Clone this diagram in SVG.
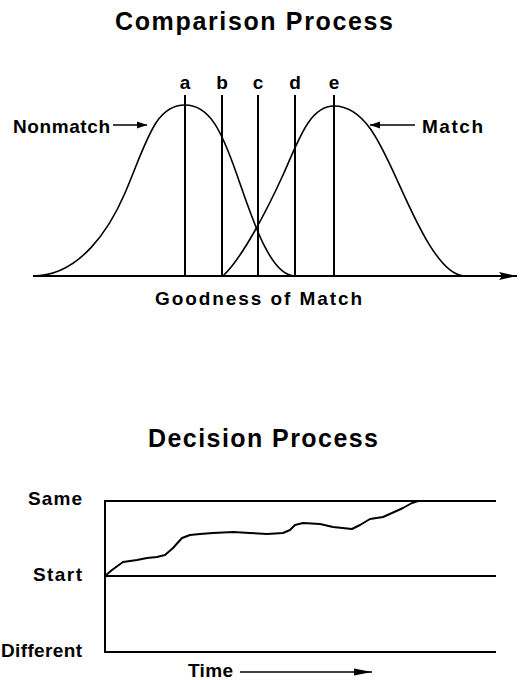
<svg xmlns="http://www.w3.org/2000/svg" width="520" height="680" viewBox="0 0 520 680">
<style>
text{font-family:"Liberation Sans",Arial,sans-serif;font-weight:bold;fill:#000}
.title{font-size:25px}
.lbl{font-size:19px}
.ax{stroke:#000;stroke-width:2;fill:none}
.cv{stroke:#000;stroke-width:1.6;fill:none}
.vl{stroke:#000;stroke-width:2;fill:none}
</style>
<defs>
<marker id="ah" viewBox="0 0 10 10" refX="10" refY="5" markerWidth="10" markerHeight="10" markerUnits="userSpaceOnUse" orient="auto">
<path d="M0,1.5 L10,5 L0,8.5 Z" fill="#000"/>
</marker>
<marker id="big" viewBox="0 0 18 10" refX="18" refY="5" markerWidth="18" markerHeight="10" markerUnits="userSpaceOnUse" orient="auto">
<path d="M0,1 L18,5 L0,9 L3,5 Z" fill="#000"/>
</marker>
<marker id="tm" viewBox="0 0 18 8" refX="18" refY="4" markerWidth="18" markerHeight="8" markerUnits="userSpaceOnUse" orient="auto">
<path d="M0,0.5 L18,4 L0,7.5 Z" fill="#000"/>
</marker>
</defs>

<g id="title-comparison"><text class="title" x="115" y="30" textLength="278" lengthAdjust="spacing">Comparison Process</text></g>

<g id="axis-goodness">
<line class="ax" x1="33" y1="276" x2="517" y2="276" marker-end="url(#big)"/>
<text class="lbl" x="155" y="305" textLength="207" lengthAdjust="spacing">Goodness of Match</text>
</g>

<g id="nonmatch-curve">
<path class="cv" d="M33,276 C80,276 110,228 125,193 C147,141 155,105 185,105 C210,105 222,132 237,175 C252,218 270,276 295,276"/>
</g>
<g id="match-curve">
<path class="cv" d="M223,276 C243,257 268,208 283,175 C298,142 309,106 334,106 C364,106 380,142 398,182 C416,222 440,276 465,276"/>
</g>

<g id="criteria">
<line class="vl" x1="185" y1="95" x2="185" y2="276"/>
<line class="vl" x1="222" y1="95" x2="222" y2="276"/>
<line class="vl" x1="258" y1="95" x2="258" y2="276"/>
<line class="vl" x1="295" y1="95" x2="295" y2="276"/>
<line class="vl" x1="334" y1="95" x2="334" y2="276"/>
<text class="lbl" x="185" y="89" text-anchor="middle">a</text>
<text class="lbl" x="222" y="89" text-anchor="middle">b</text>
<text class="lbl" x="258" y="89" text-anchor="middle">c</text>
<text class="lbl" x="295" y="89" text-anchor="middle">d</text>
<text class="lbl" x="334" y="89" text-anchor="middle">e</text>
</g>

<g id="nonmatch-label">
<text class="lbl" x="13" y="133" textLength="97" lengthAdjust="spacing">Nonmatch</text>
</g>
<g id="match-label">
<text class="lbl" x="422" y="133" textLength="61" lengthAdjust="spacing">Match</text>
</g>

<g id="connectors">
<line class="cv" x1="113" y1="125" x2="147" y2="125" marker-end="url(#ah)"/>
<line class="cv" x1="415" y1="125" x2="370" y2="125" marker-end="url(#ah)"/>
<line class="cv" x1="240" y1="672" x2="372" y2="672" marker-end="url(#tm)"/>
</g>

<g id="title-decision"><text class="title" x="148" y="447" textLength="230" lengthAdjust="spacing">Decision Process</text></g>

<g id="decision-plot">
<line class="ax" x1="105" y1="501" x2="496" y2="501"/>
<line class="ax" x1="105" y1="576" x2="496" y2="576"/>
<line class="ax" x1="105" y1="652" x2="496" y2="652"/>
<line class="ax" x1="105" y1="500" x2="105" y2="653"/>
<path class="ax" d="M105,576 L112,570 L123,562 L137,560 L147,558 L157,557 L165,555 L173,548 L182,538 L190,535 L200,534 L213,533 L233,532 L250,533 L267,534 L283,533 L290,530 L295,525 L303,523 L320,524 L333,527 L352,529 L360,525 L370,519 L383,517 L392,513 L403,508 L412,503 L418,501" stroke-linejoin="round"/>
</g>

<g id="labels-decision">
<text class="lbl" x="28" y="505" textLength="54" lengthAdjust="spacing">Same</text>
<text class="lbl" x="33" y="581" textLength="49" lengthAdjust="spacing">Start</text>
<text class="lbl" x="1" y="657" textLength="81" lengthAdjust="spacing">Different</text>
<text class="lbl" x="188" y="677" textLength="45" lengthAdjust="spacing">Time</text>
</g>
</svg>
